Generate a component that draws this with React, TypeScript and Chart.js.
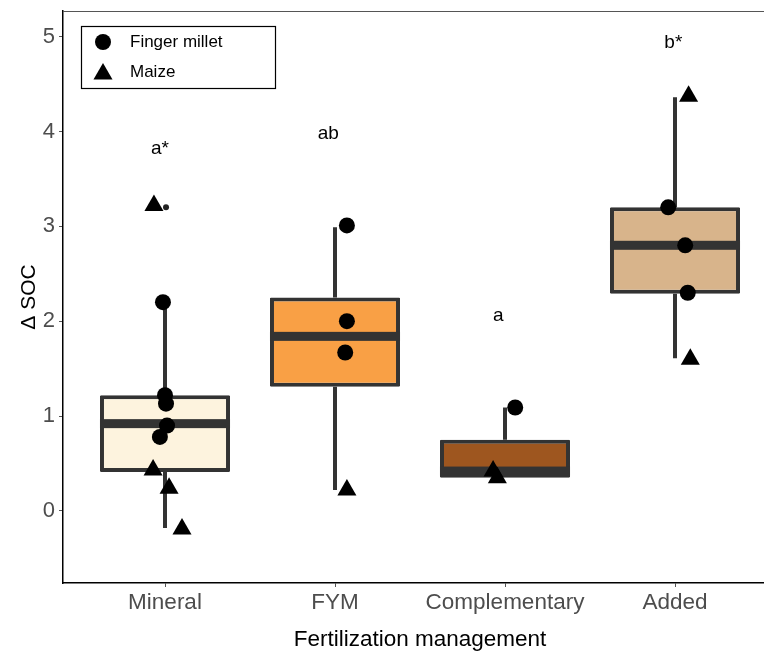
import React, { useEffect, useRef } from "react";
import { Chart, registerables } from "chart.js";

Chart.register(...registerables);

// ---- data ----
const categories = ["Mineral", "FYM", "Complementary", "Added"];
const categoryPos = [1, 2, 3, 4];
const boxQ1 = [0.41, 1.31, 0.35, 2.29];
const boxMedian = [0.92, 1.84, 0.42, 2.8];
const boxQ3 = [1.22, 2.25, 0.75, 3.2];
const whiskerLow = [-0.18, 0.22, 0.35, 1.61];
const whiskerHigh = [2.2, 2.99, 1.09, 4.36];

const outlierX = [1.006];
const outlierY = [3.2];

const milletX = [0.988, 1.0, 1.006, 1.012, 0.97, 2.07, 2.07, 2.06, 3.06, 3.96, 4.06, 4.075];
const milletY = [2.2, 1.22, 1.13, 0.9, 0.78, 3.01, 2.0, 1.67, 1.09, 3.2, 2.8, 2.3];

const maizeX = [0.935, 0.93, 1.024, 1.1, 2.07, 2.93, 2.955, 4.08, 4.09];
const maizeY = [3.22, 0.43, 0.24, -0.19, 0.22, 0.42, 0.35, 4.37, 1.6];

const letterText = ["a*", "ab", "a", "b*"];
const letterX = [0.97, 1.96, 2.96, 3.99];
const letterY = [3.82, 3.98, 2.06, 4.94];

const yTicks = [0, 1, 2, 3, 4, 5];

// ---- styles ----
const boxFills = ["#fdf3de", "#f9a045", "#9e561f", "#d8b48b"];
const boxLine = "#333333";
const FONT = "'Liberation Sans', Arial, sans-serif";

const boxPlugin = {
  id: "boxExtras",
  beforeDatasetsDraw(chart: any) {
    const { ctx, scales } = chart;
    const xs = scales.x;
    const ys = scales.y;
    ctx.save();
    ctx.strokeStyle = boxLine;
    ctx.lineWidth = 4;
    ctx.lineCap = "butt";
    categoryPos.forEach((c, i) => {
      const px = xs.getPixelForValue(c);
      ctx.beginPath();
      ctx.moveTo(px, ys.getPixelForValue(whiskerHigh[i]));
      ctx.lineTo(px, ys.getPixelForValue(boxQ3[i]));
      ctx.moveTo(px, ys.getPixelForValue(boxQ1[i]));
      ctx.lineTo(px, ys.getPixelForValue(whiskerLow[i]));
      ctx.stroke();
    });
    ctx.restore();
  },
  afterDatasetDraw(chart: any, args: any) {
    if (args.index !== 0) return;
    const { ctx, scales } = chart;
    const meta = chart.getDatasetMeta(0);
    ctx.save();
    ctx.fillStyle = boxLine;
    meta.data.forEach((bar: any, i: number) => {
      const w = bar.width;
      const py = scales.y.getPixelForValue(boxMedian[i]);
      ctx.fillRect(bar.x - w / 2, py - 4.5, w, 9);
    });
    ctx.restore();
  },
  afterDraw(chart: any) {
    const { ctx, chartArea, scales } = chart;
    ctx.save();
    // panel border (top/right)
    ctx.strokeStyle = "#555555";
    ctx.lineWidth = 1;
    ctx.beginPath();
    ctx.moveTo(chartArea.left, chartArea.top + 0.5);
    ctx.lineTo(chartArea.right, chartArea.top + 0.5);
    ctx.lineTo(chartArea.right, chartArea.bottom);
    ctx.stroke();

    // letters
    ctx.fillStyle = "#000";
    ctx.font = `19px ${FONT}`;
    ctx.textAlign = "center";
    ctx.textBaseline = "middle";
    letterText.forEach((t, i) => {
      ctx.fillText(t, scales.x.getPixelForValue(letterX[i]), scales.y.getPixelForValue(letterY[i]));
    });

    // legend
    const lx = chartArea.left + 18;
    const ly = chartArea.top + 15;
    const lw = 194;
    const lh = 62;
    ctx.fillStyle = "#fff";
    ctx.fillRect(lx, ly, lw, lh);
    ctx.strokeStyle = "#000";
    ctx.lineWidth = 1.2;
    ctx.strokeRect(lx + 0.5, ly + 0.5, lw, lh);
    const items = [chart.data.datasets[3], chart.data.datasets[2]];
    items.forEach((ds: any, i: number) => {
      const cy = ly + 16 + i * 30;
      ctx.fillStyle = "#000";
      ctx.beginPath();
      if (ds.pointStyle === "circle") {
        ctx.arc(lx + 22, cy, 8, 0, Math.PI * 2);
      } else {
        const r = 11;
        const cx = lx + 22;
        const ty = cy + 2;
        ctx.moveTo(cx, ty - r);
        ctx.lineTo(cx + r * Math.sin(Math.PI * 2 / 3), ty + r / 2);
        ctx.lineTo(cx - r * Math.sin(Math.PI * 2 / 3), ty + r / 2);
        ctx.closePath();
      }
      ctx.fill();
      ctx.font = `17px ${FONT}`;
      ctx.textAlign = "left";
      ctx.textBaseline = "middle";
      ctx.fillText(ds.label, lx + 49, cy);
    });
    ctx.restore();
  },
};

export default function App() {
  const ref = useRef<HTMLCanvasElement | null>(null);

  useEffect(() => {
    if (!ref.current) return;
    const chart = new Chart(ref.current, {
      type: "bar",
      data: {
        datasets: [
          {
            type: "bar",
            label: "box",
            data: categoryPos.map((c, i) => ({ x: c, y: [boxQ1[i], boxQ3[i]] })) as any,
            backgroundColor: boxFills,
            borderColor: boxLine,
            borderWidth: 4,
            borderSkipped: false,
            borderRadius: 1,
            barPercentage: 1,
            categoryPercentage: 0.765,
            order: 10,
          } as any,
          {
            type: "scatter",
            label: "outliers",
            data: outlierX.map((x, i) => ({ x, y: outlierY[i] })),
            pointStyle: "circle",
            pointRadius: 3,
            backgroundColor: "#222",
            borderWidth: 0,
            order: 3,
          } as any,
          {
            type: "scatter",
            label: "Maize",
            data: maizeX.map((x, i) => ({ x, y: maizeY[i] })),
            pointStyle: "triangle",
            pointRadius: 11,
            backgroundColor: "#000",
            borderColor: "#000",
            borderWidth: 0,
            order: 2,
          } as any,
          {
            type: "scatter",
            label: "Finger millet",
            data: milletX.map((x, i) => ({ x, y: milletY[i] })),
            pointStyle: "circle",
            pointRadius: 8,
            backgroundColor: "#000",
            borderColor: "#000",
            borderWidth: 0,
            order: 1,
          } as any,
        ],
      },
      options: {
        animation: false,
        responsive: false,
        devicePixelRatio: 1,
        layout: { padding: { top: 10, right: 13, left: 0, bottom: 0 } },
        plugins: { legend: { display: false }, tooltip: { enabled: false } },
        scales: {
          x: {
            type: "linear",
            min: 0.4,
            max: 4.6,
            offset: false,
            afterBuildTicks: (s: any) => {
              s.ticks = categoryPos.map((v) => ({ value: v }));
            },
            afterFit: (s: any) => {
              s.height = 76;
              s.paddingLeft = 0;
              s.paddingRight = 0;
            },
            grid: { drawOnChartArea: false, drawTicks: true, tickLength: 4, color: "#555", offset: false },
            border: { display: true, color: "#000", width: 1.5 },
            ticks: {
              autoSkip: false,
              maxRotation: 0,
              padding: 2,
              color: "#4d4d4d",
              font: { family: FONT, size: 22.5 },
              callback: (v: any) => categories[categoryPos.indexOf(Number(v))] ?? "",
            },
            title: {
              display: true,
              text: "Fertilization management",
              color: "#000",
              font: { family: FONT, size: 22.5 },
              padding: { top: 0, bottom: 6 },
            },
          },
          y: {
            type: "linear",
            min: -0.76,
            max: 5.27,
            afterBuildTicks: (s: any) => {
              s.ticks = yTicks.map((v) => ({ value: v }));
            },
            afterFit: (s: any) => {
              s.width = 63;
              s.paddingTop = 0;
              s.paddingBottom = 0;
            },
            grid: { drawOnChartArea: false, drawTicks: true, tickLength: 4, color: "#555" },
            border: { display: true, color: "#000", width: 1.5 },
            ticks: {
              padding: 4,
              color: "#4d4d4d",
              font: { family: FONT, size: 22 },
            },
            title: {
              display: true,
              text: "Δ SOC",
              color: "#000",
              font: { family: FONT, size: 21 },
              padding: { top: 17, bottom: 0 },
            },
          },
        },
      },
      plugins: [boxPlugin],
    });
    return () => chart.destroy();
  }, []);

  return (
    <div style={{ position: "fixed", left: 0, top: 0, width: 764, height: 659, overflow: "hidden", background: "#fff" }}>
      <canvas ref={ref} width={790} height={659} style={{ width: 790, height: 659, display: "block" }} />
    </div>
  );
}
